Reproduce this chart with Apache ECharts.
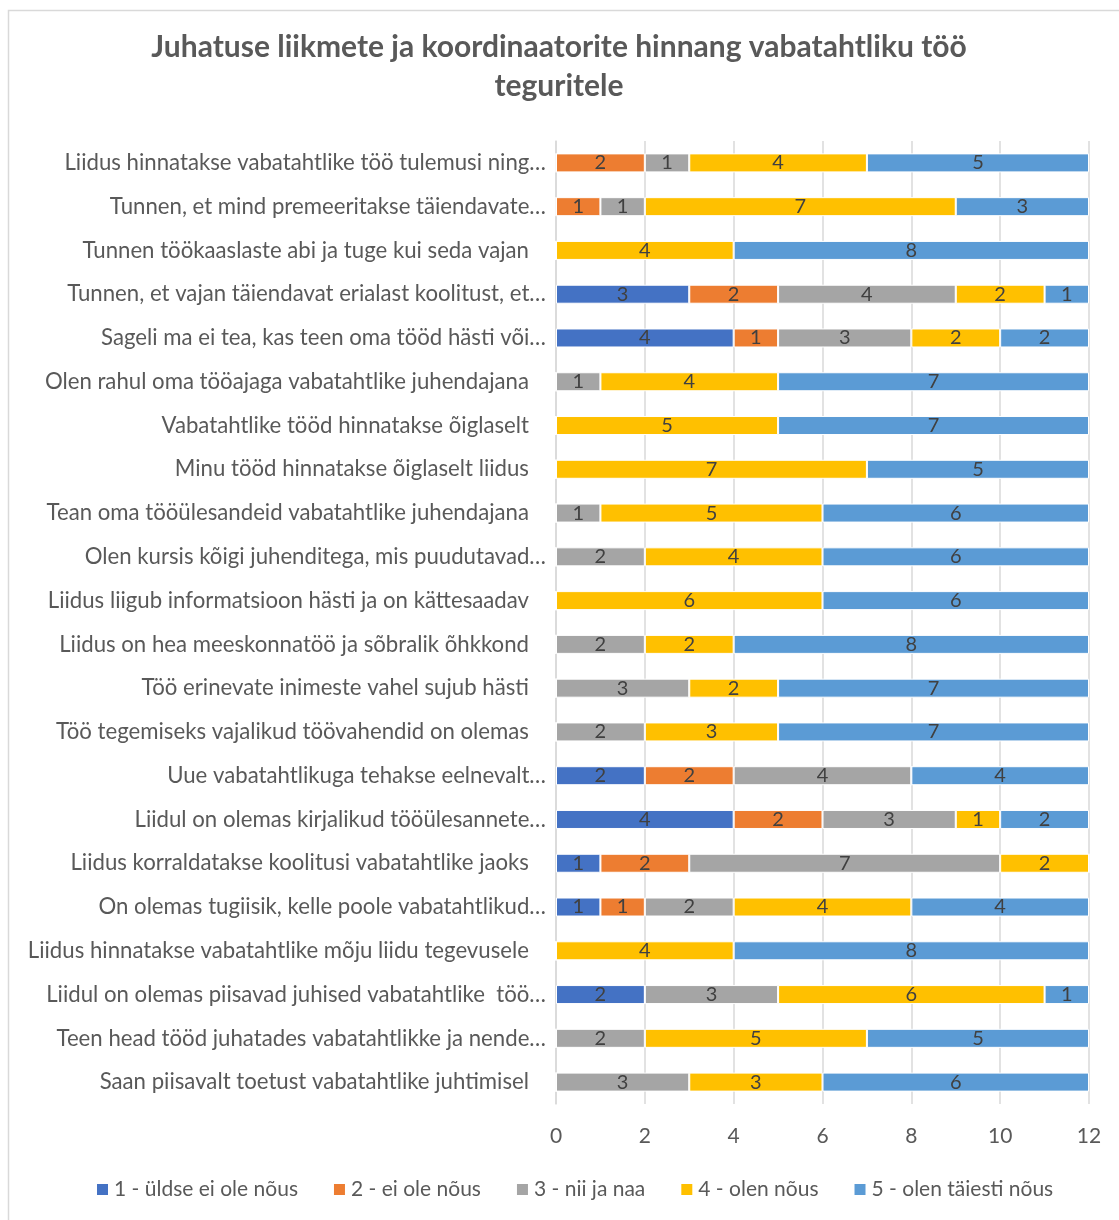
<!DOCTYPE html>
<html><head><meta charset="utf-8">
<script src="https://cdn.jsdelivr.net/npm/echarts@6/dist/echarts.min.js"></script>
<style>html,body{margin:0;padding:0;background:#fff}#c{width:1119px;height:1220px}</style>
</head><body><div id="c"></div>
<script>
const categories = [
"Liidus hinnatakse vabatahtlike töö tulemusi ning…",
"Tunnen, et mind premeeritakse täiendavate…",
"Tunnen töökaaslaste abi ja tuge kui seda vajan",
"Tunnen, et vajan täiendavat erialast koolitust, et…",
"Sageli ma ei tea, kas teen oma tööd hästi või…",
"Olen rahul oma tööajaga vabatahtlike juhendajana",
"Vabatahtlike tööd hinnatakse õiglaselt",
"Minu tööd hinnatakse õiglaselt liidus",
"Tean oma tööülesandeid vabatahtlike juhendajana",
"Olen kursis kõigi juhenditega, mis puudutavad…",
"Liidus liigub informatsioon hästi ja on kättesaadav",
"Liidus on hea meeskonnatöö ja sõbralik õhkkond",
"Töö erinevate inimeste vahel sujub hästi",
"Töö tegemiseks vajalikud töövahendid on olemas",
"Uue vabatahtlikuga tehakse eelnevalt…",
"Liidul on olemas kirjalikud tööülesannete…",
"Liidus korraldatakse koolitusi vabatahtlike jaoks",
"On olemas tugiisik, kelle poole vabatahtlikud…",
"Liidus hinnatakse vabatahtlike mõju liidu tegevusele",
"Liidul on olemas piisavad juhised vabatahtlike  töö…",
"Teen head tööd juhatades vabatahtlikke ja nende…",
"Saan piisavalt toetust vabatahtlike juhtimisel"
];
const seriesNames = ["1 - üldse ei ole nõus","2 - ei ole nõus","3 - nii ja naa","4 - olen nõus","5 - olen täiesti nõus"];
const s1 = [0,0,0,3,4,0,0,0,0,0,0,0,0,0,2,4,1,1,0,2,0,0];
const s2 = [2,1,0,2,1,0,0,0,0,0,0,0,0,0,2,2,2,1,0,0,0,0];
const s3 = [1,1,0,4,3,1,0,0,1,2,0,2,3,2,4,3,7,2,0,3,2,3];
const s4 = [4,7,4,2,2,4,5,7,5,4,6,2,2,3,0,1,2,4,4,6,5,3];
const s5 = [5,3,8,1,2,7,7,5,6,6,6,8,7,7,4,2,0,4,8,1,5,6];
const xTicks = [0,2,4,6,8,10,12];
const colors = ["#4472C4","#ED7D31","#A5A5A5","#FFC000","#5B9BD5"];

const FONT = "Lato";
const allData = [s1,s2,s3,s4,s5];
const chart = echarts.init(document.getElementById('c'));
chart.setOption({
  animation:false,
  color: colors,
  title:{
    text:"Juhatuse liikmete ja koordinaatorite hinnang vabatahtliku töö\nteguritele",
    left:554, textAlign:'center', top:23,
    textStyle:{fontFamily:FONT,fontSize:30,fontWeight:'bold',color:'#595959',lineHeight:39}
  },
  graphic:[{type:'rect',shape:{x:8.5,y:10.5,width:1300,height:1300},style:{fill:'none',stroke:'#d9d9d9',lineWidth:1.5},silent:true,z:-1}],
  legend:{
    bottom:15, left:90, itemWidth:13, itemHeight:13, itemGap:34,
    icon:'rect',
    textStyle:{fontFamily:FONT,fontSize:21,color:'#595959'},
    data:seriesNames
  },
  grid:{left:556,right:30,top:141,bottom:116,containLabel:false},
  xAxis:{
    type:'value', min:0, max:12, interval:2,
    axisLine:{show:false}, axisTick:{show:false},
    splitLine:{lineStyle:{color:'#d9d9d9',width:1.5}},
    axisLabel:{fontFamily:FONT,fontSize:21,color:'#595959',margin:22,
      formatter:v=>xTicks.includes(v)?String(v):''}
  },
  yAxis:{
    type:'category', inverse:true, data:categories,
    axisLine:{lineStyle:{color:'#d9d9d9',width:1.5}},
    axisTick:{show:false},
    axisLabel:{fontFamily:FONT,fontSize:22.2,color:'#595959',margin:10,
      formatter:v=>v.endsWith('…')?v:v+'   '}
  },
  series: seriesNames.map((n,i)=>({
    name:n, type:'bar', stack:'total', data:allData[i],
    barWidth:19,
    itemStyle:{borderColor:'#fff',borderWidth:1},
    label:{show:true,position:'inside',fontFamily:FONT,fontSize:20,color:'#404040',
      formatter:p=>p.value>0?String(p.value):''}
  }))
});
</script></body></html>
